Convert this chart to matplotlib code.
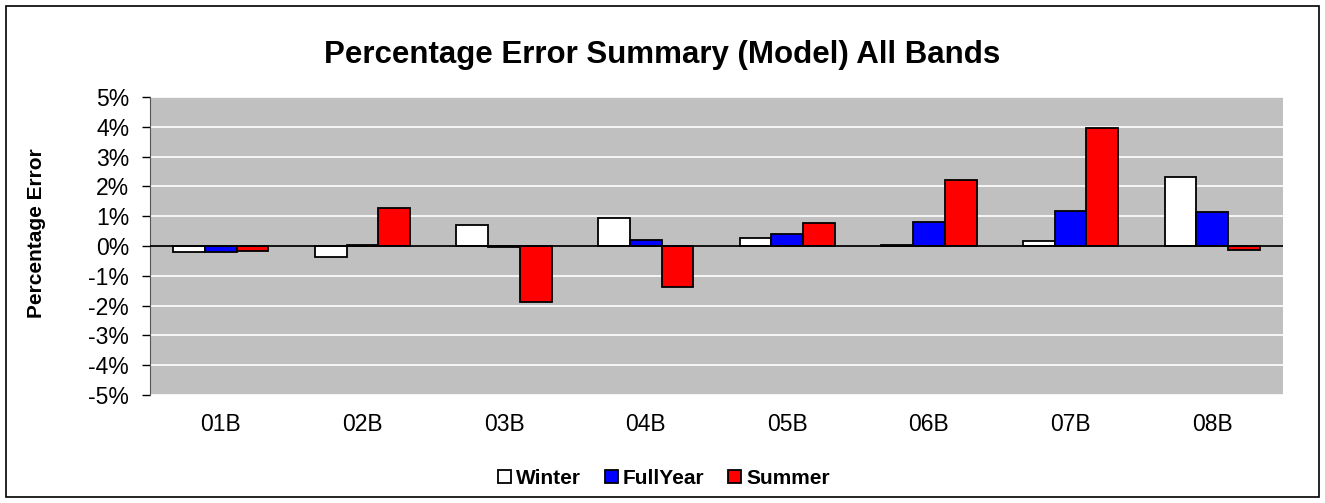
import matplotlib
matplotlib.use("Agg")
import matplotlib.pyplot as plt
import numpy as np
from matplotlib.patches import Rectangle
from matplotlib.ticker import FuncFormatter

plt.rcParams['font.family'] = ['Liberation Sans', 'DejaVu Sans']

categories = ["01B", "02B", "03B", "04B", "05B", "06B", "07B", "08B"]
winter = [-0.19, -0.36, 0.70, 0.95, 0.27, 0.05, 0.16, 2.30]
fullyear = [-0.19, 0.05, -0.03, 0.21, 0.39, 0.82, 1.19, 1.13]
summer = [-0.17, 1.28, -1.87, -1.37, 0.77, 2.22, 3.97, -0.14]
series_names = ["Winter", "FullYear", "Summer"]
colors = ["#FFFFFF", "#0000FF", "#FF0000"]

W, H = 1325, 503
fig = plt.figure(figsize=(W/100, H/100), dpi=100)
ax = fig.add_axes([150/W, 1-395/H, (1283-150)/W, (395-97)/H])
ax.set_facecolor("#C0C0C0")

x = np.arange(len(categories))
bw = 0.224
for i, (vals, c, n) in enumerate(zip([winter, fullyear, summer], colors, series_names)):
    ax.bar(x + (i-1)*bw, vals, bw, color=c, edgecolor="black", linewidth=1.3, label=n, zorder=3)

ax.set_xlim(-0.5, len(categories)-0.5)
ax.set_ylim(-5, 5)
ax.set_yticks(np.arange(-5, 6, 1))
ax.yaxis.set_major_formatter(FuncFormatter(lambda v, p: f"{int(round(v))}%"))
ax.grid(axis="y", color="white", linewidth=1.2, zorder=0)
ax.axhline(0, color="black", linewidth=1.3, zorder=4)
ax.set_xticks(x)
ax.set_xticklabels(categories)
ax.tick_params(axis="x", length=0, labelsize=16.5, pad=13)
ax.tick_params(axis="y", direction="out", length=6, width=1, labelsize=16.5, pad=9)
for s in ["top", "right", "bottom"]:
    ax.spines[s].set_visible(False)
ax.spines["left"].set_color("#555555")

fig.text(37/W, 1-233/H, "Percentage Error", rotation=90, ha="center", va="center",
         fontsize=15, fontweight="bold")
fig.text(0.5, 1-55/H, "Percentage Error Summary (Model) All Bands", ha="center", va="center",
         fontsize=22.5, fontweight="bold")

leg = fig.legend(loc="center", bbox_to_anchor=(664/W, 1-478/H), ncol=3, frameon=False,
                 prop={"weight": "bold", "size": 15}, handlelength=0.6, handleheight=0.6,
                 handletextpad=0.25, columnspacing=1.15)

fig.patches.append(Rectangle((6/W, 6/H), (1319-6)/W, (497-6)/H, transform=fig.transFigure,
                             fill=False, edgecolor="black", linewidth=1.2))
fig.savefig("out.png", dpi=100)
